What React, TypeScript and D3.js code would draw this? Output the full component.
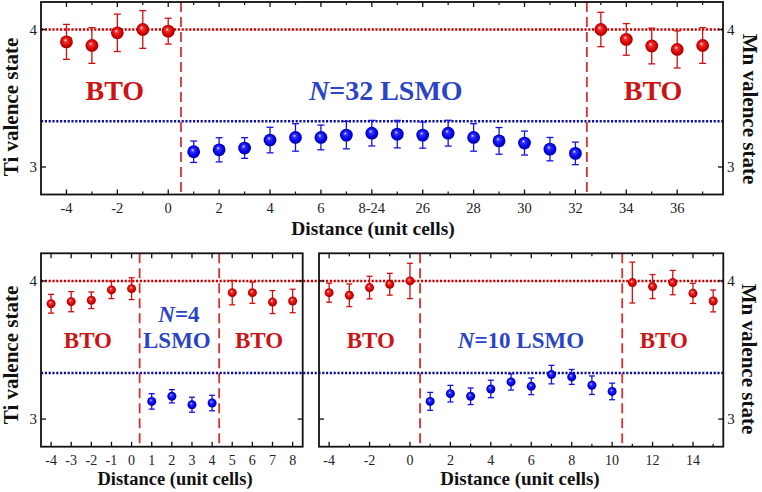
import React from "react";
import * as d3 from "d3";

// ---------------- DATA ----------------
// Top panel (N=32). x = plotting position; tick labels map positions to distances.
const topRedLX = [-4, -3, -2, -1, 0];
const topRedLY = [3.91, 3.884, 3.976, 4.0, 3.988];
const topRedLE = [0.127, 0.13, 0.136, 0.137, 0.094];
const topBlueX = [1, 2, 3, 4, 5, 6, 7, 8, 9, 10, 11, 12, 13, 14, 15, 16];
const topBlueY = [3.111, 3.125, 3.138, 3.196, 3.215, 3.215, 3.232, 3.246, 3.239, 3.232, 3.246, 3.215, 3.19, 3.174, 3.13, 3.099];
const topBlueE = [0.078, 0.088, 0.075, 0.093, 0.1, 0.09, 0.1, 0.093, 0.1, 0.095, 0.094, 0.1, 0.097, 0.087, 0.085, 0.082];
const topRedRX = [17, 18, 19, 20, 21];
const topRedRY = [4.0, 3.928, 3.88, 3.855, 3.884];
const topRedRE = [0.125, 0.115, 0.13, 0.135, 0.13];
const topTickPos = [-4, -2, 0, 2, 4, 6, 8, 10, 12, 14, 16, 18, 20];
const topTickLabels = ["-4", "-2", "0", "2", "4", "6", "8-24", "26", "28", "30", "32", "34", "36"];
const topMinorPos = [-3, -1, 1, 3, 5, 7, 9, 11, 13, 15, 17, 19, 21];
const topBoundaries = [0.5, 16.45];

// Bottom-left panel (N=4)
const blRedLX = [-4, -3, -2, -1, 0];
const blRedLY = [3.835, 3.85, 3.86, 3.935, 3.944];
const blRedLE = [0.068, 0.073, 0.06, 0.063, 0.079];
const blBlueX = [1, 2, 3, 4];
const blBlueY = [3.128, 3.165, 3.104, 3.116];
const blBlueE = [0.056, 0.048, 0.054, 0.056];
const blRedRX = [5, 6, 7, 8];
const blRedRY = [3.915, 3.915, 3.847, 3.855];
const blRedRE = [0.088, 0.077, 0.083, 0.085];
const blTickPos = [-4, -3, -2, -1, 0, 1, 2, 3, 4, 5, 6, 7, 8];
const blTickLabels = ["-4", "-3", "-2", "-1", "0", "1", "2", "3", "4", "5", "6", "7", "8"];
const blMinorPos: number[] = [];
const blBoundaries = [0.4, 4.35];

// Bottom-right panel (N=10)
const brRedLX = [-4, -3, -2, -1, 0];
const brRedLY = [3.915, 3.896, 3.952, 3.976, 4.0];
const brRedLE = [0.069, 0.082, 0.082, 0.079, 0.128];
const brBlueX = [1, 2, 3, 4, 5, 6, 7, 8, 9, 10];
const brBlueY = [3.128, 3.184, 3.165, 3.218, 3.269, 3.237, 3.322, 3.305, 3.245, 3.2];
const brBlueE = [0.065, 0.06, 0.06, 0.063, 0.059, 0.06, 0.067, 0.054, 0.067, 0.06];
const brRedRX = [11, 12, 13, 14, 15];
const brRedRY = [3.988, 3.959, 3.988, 3.91, 3.855];
const brRedRE = [0.148, 0.087, 0.088, 0.073, 0.079];
const brTickPos = [-4, -2, 0, 2, 4, 6, 8, 10, 12, 14];
const brTickLabels = ["-4", "-2", "0", "2", "4", "6", "8", "10", "12", "14"];
const brMinorPos = [-3, -1, 1, 3, 5, 7, 9, 11, 13, 15];
const brBoundaries = [0.5, 10.5];

const yTicks = [3, 4];
const yTickLabels = ["3", "4"];
const tiLevel = 4;
const mnLevel = 3.333;

// ---------------- STYLE ----------------
const SERIF = "Liberation Serif, Times New Roman, serif";
const RED_TXT = "#cc1414";
const BLUE_TXT = "#2a44c6";
const RED_LINE = "#cc0000";
const BLUE_LINE = "#1010a0";
const DASH_RED = "#d83030";

type Series = { xs: number[]; ys: number[]; es: number[]; color: "red" | "blue" };

type PanelProps = {
  x0: number; x1: number; y0: number; y1: number;
  xDomain: [number, number];
  series: Series[];
  tickPos: number[]; tickLabels: string[]; minorPos: number[];
  boundaries: number[];
  r: number; cap: number; tickFont: number;
  leftLabels: boolean; rightLabels: boolean;
  labelBaseline: number;
  children?: (x: d3.ScaleLinear<number, number>, y: d3.ScaleLinear<number, number>) => React.ReactNode;
};

function Panel(p: PanelProps) {
  const x = d3.scaleLinear().domain(p.xDomain).range([p.x0, p.x1]);
  const y = d3.scaleLinear().domain([2.8, 4.2]).range([p.y1, p.y0]);
  const major = 5, minor = 3;
  return (
    <g>
      {p.boundaries.map((b, i) => (
        <line key={"b" + i} x1={x(b)} x2={x(b)} y1={p.y0} y2={p.y1}
          stroke={DASH_RED} strokeWidth={1.8} strokeDasharray="10,5" />
      ))}
      {p.children && p.children(x, y)}
      {p.series.map((s, si) => (
        <g key={"s" + si}>
          {s.xs.map((xv, i) => {
            const cx = x(xv), cy = y(s.ys[i]);
            const yt = y(s.ys[i] + s.es[i]), yb = y(s.ys[i] - s.es[i]);
            const col = s.color === "red" ? "#d01010" : "#1515e0";
            return (
              <g key={i}>
                <line x1={cx} x2={cx} y1={yt} y2={yb} stroke={col} strokeWidth={1.3} />
                <line x1={cx - p.cap} x2={cx + p.cap} y1={yt} y2={yt} stroke={col} strokeWidth={1.3} />
                <line x1={cx - p.cap} x2={cx + p.cap} y1={yb} y2={yb} stroke={col} strokeWidth={1.3} />
                <circle cx={cx} cy={cy} r={p.r} fill={`url(#ball-${s.color})`} />
              </g>
            );
          })}
        </g>
      ))}
      <rect x={p.x0} y={p.y0} width={p.x1 - p.x0} height={p.y1 - p.y0} fill="none" stroke="#111" strokeWidth={1.8} />
      {p.tickPos.map((t, i) => (
        <g key={"t" + i}>
          <line x1={x(t)} x2={x(t)} y1={p.y1} y2={p.y1 - major} stroke="#111" strokeWidth={1.3} />
          <line x1={x(t)} x2={x(t)} y1={p.y0} y2={p.y0 + major} stroke="#111" strokeWidth={1.3} />
          <text x={x(t)} y={p.labelBaseline} textAnchor="middle" fontFamily={SERIF}
            fontSize={p.tickFont} fill="#222">{p.tickLabels[i]}</text>
        </g>
      ))}
      {p.minorPos.filter((t) => t > p.xDomain[0] && t < p.xDomain[1]).map((t, i) => (
        <g key={"m" + i}>
          <line x1={x(t)} x2={x(t)} y1={p.y1} y2={p.y1 - minor} stroke="#111" strokeWidth={1.2} />
          <line x1={x(t)} x2={x(t)} y1={p.y0} y2={p.y0 + minor} stroke="#111" strokeWidth={1.2} />
        </g>
      ))}
      {yTicks.map((t, i) => (
        <g key={"y" + i}>
          <line x1={p.x0} x2={p.x0 + major} y1={y(t)} y2={y(t)} stroke="#111" strokeWidth={1.3} />
          <line x1={p.x1} x2={p.x1 - major} y1={y(t)} y2={y(t)} stroke="#111" strokeWidth={1.3} />
          {p.leftLabels && (
            <text x={p.x0 - 4} y={y(t) + 5} textAnchor="end" fontFamily={SERIF} fontSize={15} fill="#222">{yTickLabels[i]}</text>
          )}
          {p.rightLabels && (
            <text x={p.x1 + 4} y={y(t) + 5} textAnchor="start" fontFamily={SERIF} fontSize={15} fill="#222">{yTickLabels[i]}</text>
          )}
        </g>
      ))}
    </g>
  );
}

function HLines({ x0, x1, y0, y1 }: { x0: number; x1: number; y0: number; y1: number }) {
  const y = d3.scaleLinear().domain([2.8, 4.2]).range([y1, y0]);
  return (
    <g>
      <line x1={x0} x2={x1} y1={y(tiLevel)} y2={y(tiLevel)} stroke={RED_LINE} strokeWidth={2.6} strokeDasharray="2.2,1.6" />
      <line x1={x0} x2={x1} y1={y(mnLevel)} y2={y(mnLevel)} stroke={BLUE_LINE} strokeWidth={2.6} strokeDasharray="2.2,1.6" />
    </g>
  );
}

const mk = (xs: number[], ys: number[], es: number[], color: "red" | "blue"): Series => ({ xs, ys, es, color });

export default function App() {
  const bold = { fontFamily: SERIF, fontWeight: 700 } as const;
  return (
    <svg width={762} height={492} style={{ position: "absolute", left: 0, top: 0, background: "#fff" }}>
      <defs>
        <radialGradient id="ball-red" cx="50%" cy="50%" r="55%" fx="40%" fy="35%">
          <stop offset="0%" stopColor="#ffe0e0" />
          <stop offset="25%" stopColor="#f03030" />
          <stop offset="70%" stopColor="#d00000" />
          <stop offset="100%" stopColor="#900000" />
        </radialGradient>
        <radialGradient id="ball-blue" cx="50%" cy="50%" r="55%" fx="40%" fy="35%">
          <stop offset="0%" stopColor="#e0e0ff" />
          <stop offset="25%" stopColor="#3030ff" />
          <stop offset="70%" stopColor="#0000e0" />
          <stop offset="100%" stopColor="#00008a" />
        </radialGradient>
      </defs>

      {/* TOP PANEL */}
      <HLines x0={41} x1={723} y0={2} y1={194.5} />
      <Panel x0={41} x1={723} y0={2} y1={194.5} xDomain={[-5, 21.8]}
        series={[mk(topRedLX, topRedLY, topRedLE, "red"), mk(topBlueX, topBlueY, topBlueE, "blue"), mk(topRedRX, topRedRY, topRedRE, "red")]}
        tickPos={topTickPos} tickLabels={topTickLabels} minorPos={topMinorPos} boundaries={topBoundaries}
        r={6.4} cap={3.5} tickFont={14.5} leftLabels rightLabels labelBaseline={213}>
        {(x, y) => (
          <g>
            <text x={x(-2.1)} y={y(3.49)} textAnchor="middle" fontSize={28} fill={RED_TXT} {...bold}>BTO</text>
            <text x={x(8.55)} y={y(3.49)} textAnchor="middle" fontSize={28} fill={BLUE_TXT} {...bold}>
              <tspan fontStyle="italic">N</tspan>=32 LSMO
            </text>
            <text x={x(19.05)} y={y(3.485)} textAnchor="middle" fontSize={28} fill={RED_TXT} {...bold}>BTO</text>
          </g>
        )}
      </Panel>

      {/* BOTTOM PANELS */}
      <HLines x0={41} x1={723.3} y0={253.3} y1={446.7} />
      <Panel x0={41} x1={302.7} y0={253.3} y1={446.7} xDomain={[-4.5, 8.5]}
        series={[mk(blRedLX, blRedLY, blRedLE, "red"), mk(blBlueX, blBlueY, blBlueE, "blue"), mk(blRedRX, blRedRY, blRedRE, "red")]}
        tickPos={blTickPos} tickLabels={blTickLabels} minorPos={blMinorPos} boundaries={blBoundaries}
        r={4.5} cap={3} tickFont={14} leftLabels rightLabels={false} labelBaseline={465}>
        {(x, y) => (
          <g>
            <text x={x(-2.17)} y={y(3.514)} textAnchor="middle" fontSize={23} fill={RED_TXT} {...bold}>BTO</text>
            <text x={x(2.35)} y={y(3.705)} textAnchor="middle" fontSize={23} fill={BLUE_TXT} {...bold}>
              <tspan fontStyle="italic">N</tspan>=4
            </text>
            <text x={x(2.25)} y={y(3.514)} textAnchor="middle" fontSize={23} fill={BLUE_TXT} {...bold}>LSMO</text>
            <text x={x(6.33)} y={y(3.514)} textAnchor="middle" fontSize={23} fill={RED_TXT} {...bold}>BTO</text>
          </g>
        )}
      </Panel>
      <Panel x0={319} x1={723.3} y0={253.3} y1={446.7} xDomain={[-4.5, 15.5]}
        series={[mk(brRedLX, brRedLY, brRedLE, "red"), mk(brBlueX, brBlueY, brBlueE, "blue"), mk(brRedRX, brRedRY, brRedRE, "red")]}
        tickPos={brTickPos} tickLabels={brTickLabels} minorPos={brMinorPos} boundaries={brBoundaries}
        r={4.5} cap={3} tickFont={14} leftLabels={false} rightLabels labelBaseline={465}>
        {(x, y) => (
          <g>
            <text x={x(-1.94)} y={y(3.514)} textAnchor="middle" fontSize={23} fill={RED_TXT} {...bold}>BTO</text>
            <text x={x(5.49)} y={y(3.514)} textAnchor="middle" fontSize={23} fill={BLUE_TXT} {...bold}>
              <tspan fontStyle="italic">N</tspan>=10 LSMO
            </text>
            <text x={x(12.56)} y={y(3.514)} textAnchor="middle" fontSize={23} fill={RED_TXT} {...bold}>BTO</text>
          </g>
        )}
      </Panel>

      {/* AXIS TITLES */}
      <text transform="translate(18,107) rotate(-90)" textAnchor="middle" fontSize={21} fill="#111" {...bold}>Ti valence state</text>
      <text transform="translate(18,355) rotate(-90)" textAnchor="middle" fontSize={21} fill="#111" {...bold}>Ti valence state</text>
      <text transform="translate(743,109) rotate(90)" textAnchor="middle" fontSize={21} fill="#111" {...bold}>Mn valence state</text>
      <text transform="translate(742,359) rotate(90)" textAnchor="middle" fontSize={21} fill="#111" {...bold}>Mn valence state</text>
      <text x={373} y={235} textAnchor="middle" fontSize={19.5} fill="#111" {...bold}>Distance (unit cells)</text>
      <text x={175} y={485} textAnchor="middle" fontSize={18.5} fill="#111" {...bold}>Distance (unit cells)</text>
      <text x={520} y={485} textAnchor="middle" fontSize={19} fill="#111" {...bold}>Distance (unit cells)</text>
    </svg>
  );
}
